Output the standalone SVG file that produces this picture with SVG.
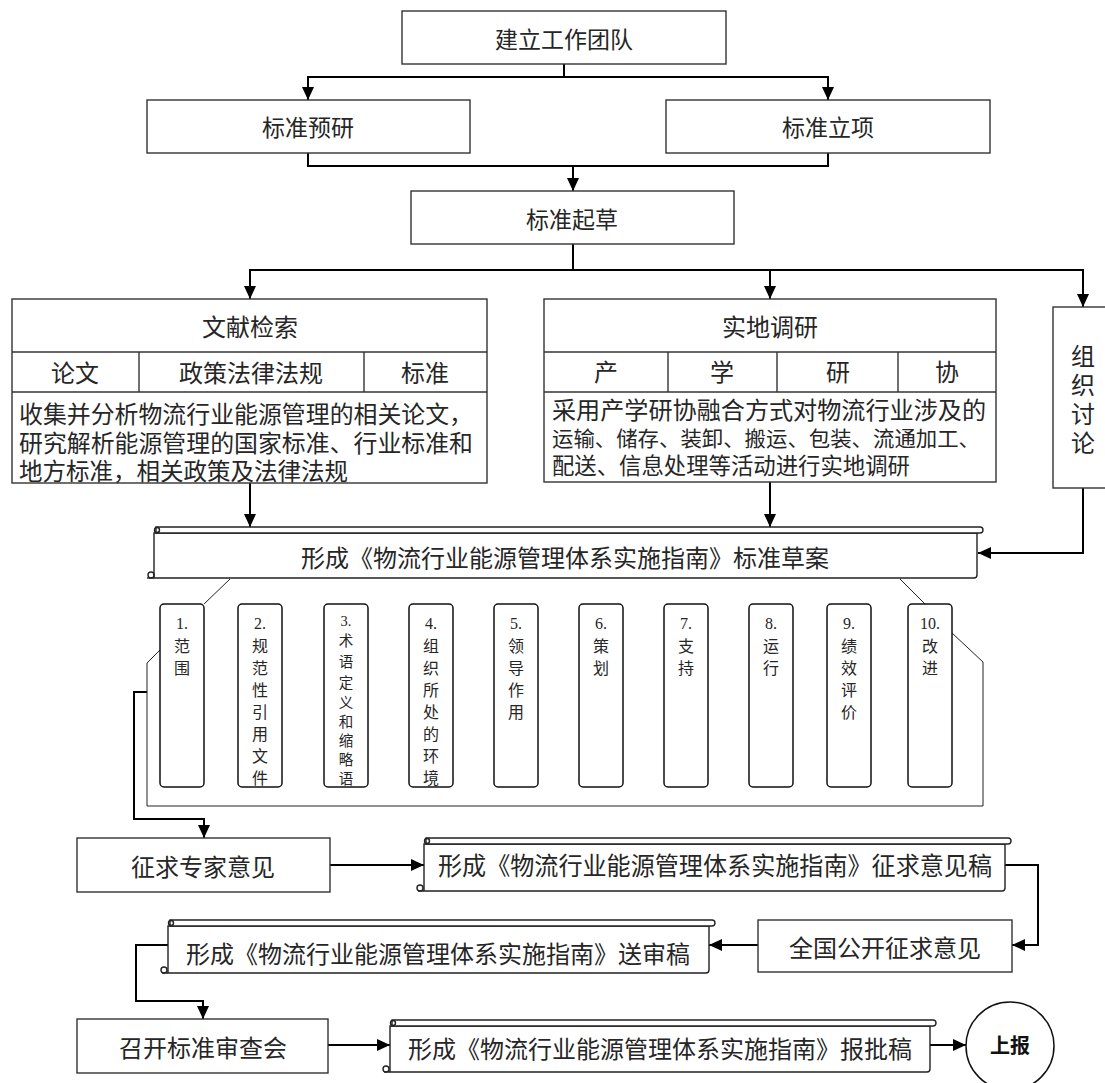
<svg xmlns="http://www.w3.org/2000/svg" width="1105" height="1083" viewBox="0 0 1105 1083">
<defs>
<marker id="ah" viewBox="0 0 13 12" refX="13" refY="6" markerWidth="13" markerHeight="12" markerUnits="userSpaceOnUse" orient="auto">
<path d="M0,0 L13,6 L0,12 z" fill="#000"/>
</marker>
<style>
.box{fill:#fff;stroke:#333;stroke-width:1.4}
.nb{fill:#fff;stroke:#111;stroke-width:1.5}
.sc{fill:#fff;stroke:#222;stroke-width:1.4}
.scl{fill:none;stroke:#222;stroke-width:1.4}
.cn{fill:none;stroke:#000;stroke-width:2}
.ar{marker-end:url(#ah)}
.br{fill:none;stroke:#222;stroke-width:1}
text{font-family:"Noto Sans CJK SC","Liberation Serif",serif;fill:#262626;dominant-baseline:central}
.t{font-size:23px;text-anchor:middle}
.t24{font-size:24px;text-anchor:middle}
.bl{font-size:23.5px;text-anchor:start}
.n{font-size:16px;text-anchor:middle}
.n3{font-size:14.5px;text-anchor:middle}
.num{font-family:"Liberation Serif","Noto Sans CJK SC",serif}
</style>
</defs>

<g id="connectors">
<path class="cn ar" d="M564,64 V77 H308 V100"/>
<path class="cn ar" d="M564,77 H828 V100"/>
<path class="cn ar" d="M308,153 V166 H573 V191"/>
<path class="cn" d="M828,153 V166 H573"/>
<path class="cn ar" d="M573,244 V270 H250 V299"/>
<path class="cn ar" d="M573,270 H770 V299"/>
<path class="cn ar" d="M770,270 H1083 V307"/>
<path class="cn ar" d="M250,483 V527"/>
<path class="cn ar" d="M770,482 V527"/>
<path class="cn ar" d="M1083,488 V553 H978"/>
<path class="cn ar" d="M147,692 H134 V819 H204 V838"/>
<path class="cn ar" d="M330,865 H424"/>
<path class="cn ar" d="M1005,865 H1038 V945 H1012"/>
<path class="cn ar" d="M758,945 H709"/>
<path class="cn ar" d="M168,945 H136 V1001 H203 V1019"/>
<path class="cn ar" d="M328,1045 H390"/>
<path class="cn ar" d="M930,1045 H966"/>
</g>

<g id="n-team"><rect class="box" x="402" y="11" width="324" height="53"/><text class="t" x="564" y="38">建立工作团队</text></g>
<g id="n-prestudy"><rect class="box" x="147" y="100" width="323" height="53"/><text class="t" x="308" y="126">标准预研</text></g>
<g id="n-project"><rect class="box" x="666" y="100" width="324" height="53"/><text class="t" x="828" y="126">标准立项</text></g>
<g id="n-draft"><rect class="box" x="411" y="191" width="323" height="53"/><text class="t" x="572" y="218">标准起草</text></g>

<g id="n-literature">
<rect class="box" x="12" y="299" width="475" height="184"/>
<line class="box" x1="12" y1="352" x2="487" y2="352"/>
<line class="box" x1="12" y1="392" x2="487" y2="392"/>
<line class="box" x1="139" y1="352" x2="139" y2="392"/>
<line class="box" x1="364" y1="352" x2="364" y2="392"/>
<text class="t24" x="250" y="325">文献检索</text>
<text class="t24" x="75" y="371">论文</text>
<text class="t24" x="251" y="371">政策法律法规</text>
<text class="t24" x="425" y="371">标准</text>
<text class="bl"><tspan x="19" y="413" textLength="454" lengthAdjust="spacingAndGlyphs">收集并分析物流行业能源管理的相关论文，</tspan><tspan x="19" y="442" textLength="454" lengthAdjust="spacingAndGlyphs">研究解析能源管理的国家标准、行业标准和</tspan><tspan x="19" y="470">地方标准，相关政策及法律法规</tspan></text>
</g>

<g id="n-field">
<rect class="box" x="544" y="299" width="452" height="183"/>
<line class="box" x1="544" y1="352" x2="996" y2="352"/>
<line class="box" x1="544" y1="392" x2="996" y2="392"/>
<line class="box" x1="668" y1="352" x2="668" y2="392"/>
<line class="box" x1="777" y1="352" x2="777" y2="392"/>
<line class="box" x1="898" y1="352" x2="898" y2="392"/>
<text class="t24" x="770" y="325">实地调研</text>
<text class="t24" x="606" y="370">产</text>
<text class="t24" x="722" y="370">学</text>
<text class="t24" x="838" y="370">研</text>
<text class="t24" x="947" y="370">协</text>
<text class="bl"><tspan x="552" y="409" textLength="434" lengthAdjust="spacingAndGlyphs">采用产学研协融合方式对物流行业涉及的</tspan><tspan x="552" y="437" style="font-size:21px" textLength="428" lengthAdjust="spacingAndGlyphs">运输、储存、装卸、搬运、包装、流通加工、</tspan><tspan x="552" y="464" style="font-size:22.5px" textLength="358" lengthAdjust="spacingAndGlyphs">配送、信息处理等活动进行实地调研</tspan></text>
</g>

<g id="n-discuss">
<rect class="box" x="1053" y="307" width="62" height="181"/>
<text class="t24"><tspan x="1083" y="354">组</tspan><tspan x="1083" y="383">织</tspan><tspan x="1083" y="412">讨</tspan><tspan x="1083" y="441">论</tspan></text>
</g>

<g id="n-scroll-draft">
<path class="sc" d="M154,533 V578 H974 Q977,578 977,575 V533 Z"/>
<path class="scl" d="M147,578 H154"/>
<path class="sc" d="M156,527 H980 A3,3 0 0 1 980,533 H156 Z"/>
<circle class="scl" cx="157" cy="530" r="2.5"/>
<circle class="scl" cx="151" cy="575" r="3"/>
<text class="t24" x="565" y="556">形成《物流行业能源管理体系实施指南》标准草案</text>
</g>

<g id="n-bracket">
<path class="br" d="M230,579 L204,604"/>
<path class="br" d="M900,579 L925,604"/>
<path class="br" d="M160,650 L147,663 V806 H983 V662 L952,633"/>
</g>

<g id="n-c1"><rect class="nb" x="160" y="604" width="44" height="183" rx="4"/>
<text class="n"><tspan class="num" x="182" y="623">1.</tspan><tspan x="182" y="645">范</tspan><tspan x="182" y="667">围</tspan></text></g>
<g id="n-c2"><rect class="nb" x="238" y="604" width="44" height="183" rx="4"/>
<text class="n"><tspan class="num" x="260" y="623">2.</tspan><tspan x="260" y="645">规</tspan><tspan x="260" y="667">范</tspan><tspan x="260" y="689">性</tspan><tspan x="260" y="711">引</tspan><tspan x="260" y="733">用</tspan><tspan x="260" y="755">文</tspan><tspan x="260" y="777">件</tspan></text></g>
<g id="n-c3"><rect class="nb" x="324" y="604" width="44" height="183" rx="4"/>
<text class="n3"><tspan class="num" x="346" y="621">3.</tspan><tspan x="346" y="639">术</tspan><tspan x="346" y="660">语</tspan><tspan x="346" y="681">定</tspan><tspan x="346" y="701">义</tspan><tspan x="346" y="720">和</tspan><tspan x="346" y="739">缩</tspan><tspan x="346" y="758">略</tspan><tspan x="346" y="777">语</tspan></text></g>
<g id="n-c4"><rect class="nb" x="409" y="604" width="44" height="183" rx="4"/>
<text class="n"><tspan class="num" x="431" y="623">4.</tspan><tspan x="431" y="645">组</tspan><tspan x="431" y="667">织</tspan><tspan x="431" y="689">所</tspan><tspan x="431" y="711">处</tspan><tspan x="431" y="733">的</tspan><tspan x="431" y="755">环</tspan><tspan x="431" y="777">境</tspan></text></g>
<g id="n-c5"><rect class="nb" x="494" y="604" width="44" height="183" rx="4"/>
<text class="n"><tspan class="num" x="516" y="623">5.</tspan><tspan x="516" y="645">领</tspan><tspan x="516" y="667">导</tspan><tspan x="516" y="689">作</tspan><tspan x="516" y="711">用</tspan></text></g>
<g id="n-c6"><rect class="nb" x="579" y="604" width="44" height="183" rx="4"/>
<text class="n"><tspan class="num" x="601" y="623">6.</tspan><tspan x="601" y="645">策</tspan><tspan x="601" y="667">划</tspan></text></g>
<g id="n-c7"><rect class="nb" x="664" y="604" width="44" height="183" rx="4"/>
<text class="n"><tspan class="num" x="686" y="623">7.</tspan><tspan x="686" y="645">支</tspan><tspan x="686" y="667">持</tspan></text></g>
<g id="n-c8"><rect class="nb" x="749" y="604" width="44" height="183" rx="4"/>
<text class="n"><tspan class="num" x="771" y="623">8.</tspan><tspan x="771" y="645">运</tspan><tspan x="771" y="667">行</tspan></text></g>
<g id="n-c9"><rect class="nb" x="827" y="604" width="44" height="183" rx="4"/>
<text class="n"><tspan class="num" x="849" y="623">9.</tspan><tspan x="849" y="645">绩</tspan><tspan x="849" y="667">效</tspan><tspan x="849" y="689">评</tspan><tspan x="849" y="711">价</tspan></text></g>
<g id="n-c10"><rect class="nb" x="908" y="604" width="44" height="183" rx="4"/>
<text class="n"><tspan class="num" x="930" y="623">10.</tspan><tspan x="930" y="645">改</tspan><tspan x="930" y="667">进</tspan></text></g>

<g id="n-expert"><rect class="box" x="77" y="838" width="253" height="54"/><text class="t24" x="203" y="865">征求专家意见</text></g>

<g id="n-scroll-comment">
<path class="sc" d="M424,844 V891 H1002 Q1005,891 1005,888 V844 Z"/>
<path class="scl" d="M418,891 H424"/>
<path class="sc" d="M426,838 H1008 A3,3 0 0 1 1008,844 H426 Z"/>
<circle class="scl" cx="427" cy="841" r="2.5"/>
<circle class="scl" cx="420" cy="888" r="3"/>
<text class="t24" x="715" y="864" textLength="554" lengthAdjust="spacingAndGlyphs" style="font-size:24.5px">形成《物流行业能源管理体系实施指南》征求意见稿</text>
</g>

<g id="n-public"><rect class="box" x="758" y="920" width="254" height="52"/><text class="t24" x="885" y="946">全国公开征求意见</text></g>

<g id="n-scroll-review">
<path class="sc" d="M168,926 V973 H706 Q709,973 709,970 V926 Z"/>
<path class="scl" d="M162,973 H168"/>
<path class="sc" d="M170,920 H712 A3,3 0 0 1 712,926 H170 Z"/>
<circle class="scl" cx="171" cy="923" r="2.5"/>
<circle class="scl" cx="164" cy="970" r="3"/>
<text class="t24" x="438" y="952">形成《物流行业能源管理体系实施指南》送审稿</text>
</g>

<g id="n-meeting"><rect class="box" x="77" y="1019" width="251" height="54"/><text class="t24" x="203" y="1046">召开标准审查会</text></g>

<g id="n-scroll-approve">
<path class="sc" d="M390,1026 V1072 H927 Q930,1072 930,1069 V1026 Z"/>
<path class="scl" d="M384,1072 H390"/>
<path class="sc" d="M392,1020 H933 A3,3 0 0 1 933,1026 H392 Z"/>
<circle class="scl" cx="393" cy="1023" r="2.5"/>
<circle class="scl" cx="386" cy="1069" r="3"/>
<text class="t24" x="660" y="1047">形成《物流行业能源管理体系实施指南》报批稿</text>
</g>

<g id="n-report">
<circle cx="1010" cy="1046" r="44" fill="#fff" stroke="#111" stroke-width="1.5"/>
<text x="1010" y="1044" style="font-size:20px;font-weight:bold;text-anchor:middle;fill:#111">上报</text>
</g>
</svg>
